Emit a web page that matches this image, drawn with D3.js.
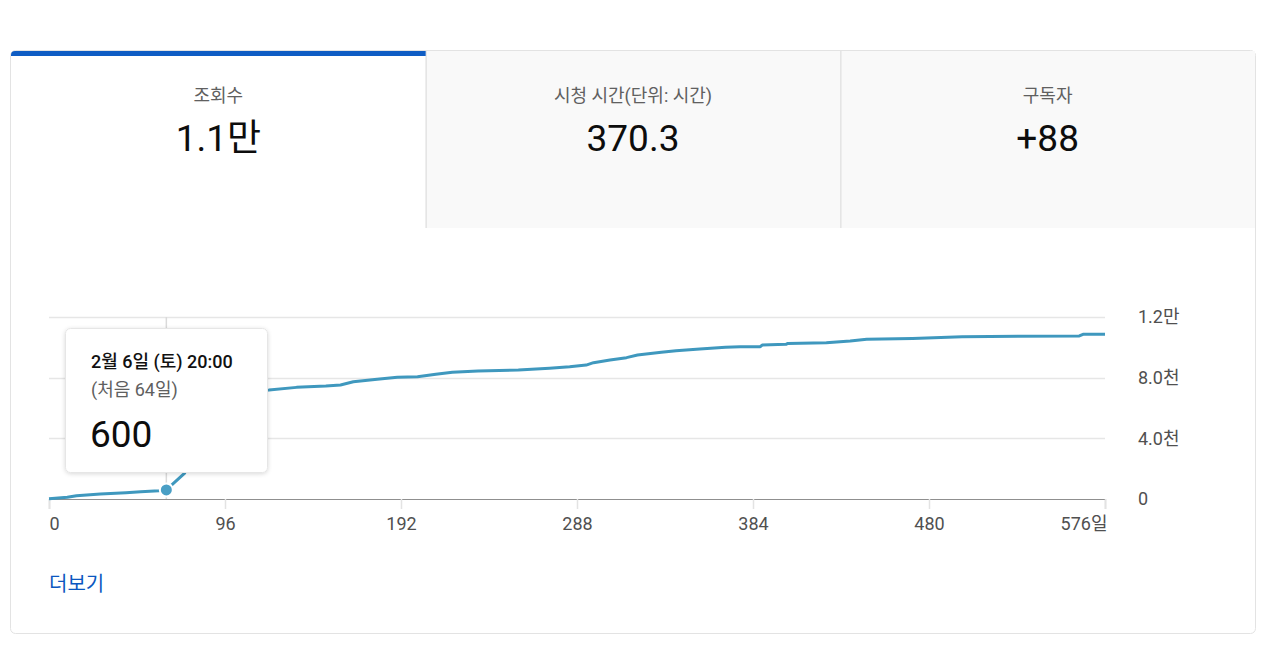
<!DOCTYPE html>
<html>
<head>
<meta charset="utf-8">
<script src="https://cdn.jsdelivr.net/npm/d3@7"></script>
<style>
  html, body { margin: 0; padding: 0; background: #ffffff; }
  svg { display: block; font-family: Roboto, "Noto Sans CJK KR", "Noto Sans", sans-serif; }
</style>
</head>
<body>
<svg id="chart" width="1280" height="654"></svg>
<script>
// ---- data ----
const tabLabels = ["조회수", "시청 시간(단위: 시간)", "구독자"];
const tabValues = ["1.1만", "370.3", "+88"];
const days = [0, 10, 15, 28, 42, 50, 60, 64, 74, 80, 90, 100, 120, 135, 151, 159, 166, 179, 190, 201, 211, 220, 234, 256, 273, 284, 293, 297, 306, 315, 321, 334, 342, 355, 369, 377, 388, 389, 402, 403, 424, 437, 446, 471, 498, 562, 564, 576];
const views = [20, 110, 220, 330, 420, 480, 550, 600, 1700, 6800, 6950, 7050, 7190, 7360, 7450, 7520, 7730, 7890, 8020, 8060, 8220, 8350, 8440, 8500, 8620, 8720, 8830, 8990, 9160, 9320, 9490, 9670, 9780, 9890, 10000, 10040, 10040, 10150, 10200, 10260, 10300, 10420, 10530, 10590, 10700, 10750, 10860, 10860];
const xTicks = [0, 96, 192, 288, 384, 480, 576];
const xTickLabels = ["0", "96", "192", "288", "384", "480", "576일"];
const yTicks = [0, 4000, 8000, 12000];
const yTickLabels = ["0", "4.0천", "8.0천", "1.2만"];
const hoverDay = 64;
const tooltipLines = ["2월 6일 (토) 20:00", "(처음 64일)", "600"];
const moreLabel = "더보기";

const svg = d3.select("#chart");

// ---- card & tabs ----
const card = { x: 10.5, y: 50.5, w: 1245, h: 583 };
svg.append("rect").attr("x", card.x).attr("y", card.y).attr("width", card.w).attr("height", card.h)
  .attr("rx", 5).attr("fill", "#ffffff").attr("stroke", "#e3e3e3");

const tabX = d3.scaleLinear().domain([0, 3]).range([11, 1255]);
const tabTop = 51, tabBottom = 228;
tabLabels.forEach((lab, i) => {
  const x0 = tabX(i), x1 = tabX(i + 1);
  if (i > 0) {
    svg.append("rect").attr("x", x0).attr("y", tabTop).attr("width", x1 - x0).attr("height", tabBottom - tabTop)
      .attr("fill", "#f9f9f9");
    svg.append("line").attr("x1", x0 + 0.5).attr("x2", x0 + 0.5).attr("y1", tabTop).attr("y2", tabBottom)
      .attr("stroke", "#e3e3e3").attr("stroke-width", 1.5);
  }
  const cx = (x0 + x1) / 2;
  svg.append("text").attr("x", cx).attr("y", 102).attr("text-anchor", "middle")
    .attr("font-size", 18).attr("fill", "#606060").text(lab);
  svg.append("text").attr("x", cx).attr("y", 151).attr("text-anchor", "middle")
    .attr("font-size", 37).attr("fill", "#0d0d0d").text(tabValues[i]);
});
// active tab bar
svg.append("path")
  .attr("d", `M11,56 L11,55 Q11,51 15,51 L${tabX(1)},51 L${tabX(1)},56 Z`)
  .attr("fill", "#0f5dc4");

// ---- chart ----
const x = d3.scaleLinear().domain([0, 576]).range([49, 1105]);
const y = d3.scaleLinear().domain([0, 12000]).range([499, 317]);

// gridlines
svg.append("g").selectAll("line").data(yTicks.filter(d => d > 0)).join("line")
  .attr("x1", x(0)).attr("x2", x(576))
  .attr("y1", d => Math.round(y(d)) + 0.5).attr("y2", d => Math.round(y(d)) + 0.5)
  .attr("stroke", "#e6e6e6").attr("stroke-width", 1.5);

// x axis
const xAxis = d3.axisBottom(x).tickValues(xTicks).tickSize(10).tickPadding(8)
  .tickFormat((d, i) => xTickLabels[i]);
const gx = svg.append("g").attr("transform", `translate(0,${y(0)})`).call(xAxis);
gx.select(".domain").attr("stroke", "#8f8f8f").attr("stroke-width", 1.2);
gx.selectAll(".tick line").attr("stroke", "#e3e3e3").attr("stroke-width", 1.5);
gx.selectAll(".tick text").attr("font-size", 18).attr("fill", "#505050")
  .attr("font-family", 'Roboto, "Noto Sans CJK KR", sans-serif')
  .attr("text-anchor", (d, i) => i === 0 ? "start" : (i === xTicks.length - 1 ? "end" : "middle"))
  .attr("dx", (d, i) => i === xTicks.length - 1 ? 2 : 0);

// y axis labels (right)
const yAxis = d3.axisRight(y).tickValues(yTicks).tickSize(0).tickPadding(0)
  .tickFormat((d, i) => yTickLabels[i]);
const gy = svg.append("g").attr("transform", "translate(1138,0)").call(yAxis);
gy.select(".domain").remove();
gy.selectAll(".tick text").attr("font-size", 18).attr("fill", "#505050")
  .attr("font-family", 'Roboto, "Noto Sans CJK KR", sans-serif');

// hover line
svg.append("line").attr("x1", x(hoverDay)).attr("x2", x(hoverDay))
  .attr("y1", y(12000)).attr("y2", y(0))
  .attr("stroke", "#dadada").attr("stroke-width", 1.5);

// data line
const pts = days.map((d, i) => [d, views[i]]);
const line = d3.line().x(d => x(d[0])).y(d => y(d[1]));
svg.append("path").datum(pts).attr("d", line)
  .attr("fill", "none").attr("stroke", "#3f98be").attr("stroke-width", 3)
  .attr("stroke-linejoin", "round");

// hover point
const hv = views[days.indexOf(hoverDay)];
svg.append("circle").attr("cx", x(hoverDay)).attr("cy", y(hv)).attr("r", 6.5)
  .attr("fill", "#4a9fc5").attr("stroke", "#ffffff").attr("stroke-width", 2);

// tooltip
const defs = svg.append("defs");
const f = defs.append("filter").attr("id", "shadow").attr("x", "-10%").attr("y", "-10%").attr("width", "120%").attr("height", "130%");
f.append("feDropShadow").attr("dx", 0).attr("dy", 1).attr("stdDeviation", 2).attr("flood-color", "#000").attr("flood-opacity", 0.15);
svg.append("rect").attr("x", 65.5).attr("y", 328.5).attr("width", 202).attr("height", 144).attr("rx", 5)
  .attr("fill", "#ffffff").attr("stroke", "#e6e6e6").attr("filter", "url(#shadow)");
svg.append("text").attr("x", 91).attr("y", 368).attr("font-size", 18).attr("font-weight", 500)
  .attr("fill", "#111").text(tooltipLines[0]);
svg.append("text").attr("x", 91).attr("y", 396).attr("font-size", 18)
  .attr("fill", "#606060").text(tooltipLines[1]);
svg.append("text").attr("x", 90).attr("y", 447).attr("font-size", 37)
  .attr("fill", "#0d0d0d").text(tooltipLines[2]);

// more link
svg.append("text").attr("x", 49).attr("y", 591).attr("font-size", 20)
  .attr("fill", "#0b57c0").text(moreLabel);
</script>
</body>
</html>
